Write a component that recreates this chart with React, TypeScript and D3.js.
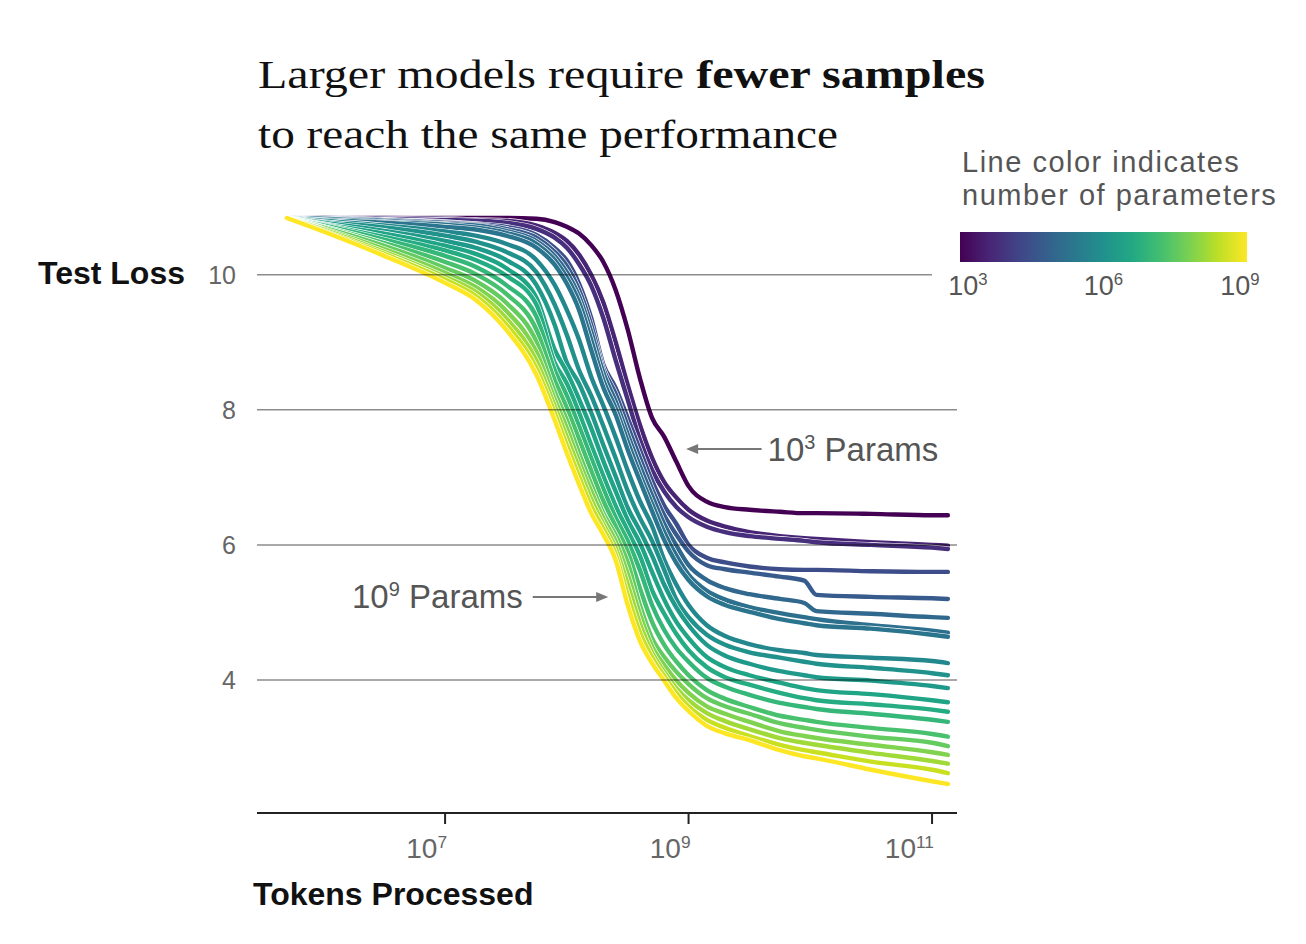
import React from 'react'
import * as d3 from 'd3'

const W = 1306
const H = 944

// log10(tokens processed), shared sample points for every run
const tokenExp = [5.7, 6.0, 6.5, 7.0, 7.25, 7.5, 7.75, 7.9, 8.0, 8.1, 8.2, 8.3, 8.4, 8.5, 8.6, 8.7, 8.8, 8.9, 9.0, 9.15, 9.3, 9.5, 9.75, 9.95, 10.05, 10.5, 11.0, 11.13]

// log10(parameter count) of each run, smallest first
const paramExp = [3.0, 3.6, 3.8, 4.4, 4.7, 5.0, 5.2, 5.3, 5.8, 6.0, 6.25, 6.5, 6.7, 7.0, 7.25, 7.55, 7.85, 8.15, 8.5, 9.0]

// test loss of each run at the tokenExp points
const run01 = [10.84, 10.84, 10.84, 10.84, 10.84, 10.84, 10.83, 10.78, 10.71, 10.61, 10.44, 10.19, 9.78, 9.19, 8.47, 7.88, 7.60, 7.23, 6.87, 6.64, 6.56, 6.52, 6.49, 6.47, 6.47, 6.46, 6.44, 6.44]
const run02 = [10.84, 10.84, 10.84, 10.83, 10.81, 10.80, 10.73, 10.62, 10.50, 10.30, 10.00, 9.59, 9.01, 8.37, 7.78, 7.29, 6.93, 6.70, 6.52, 6.36, 6.27, 6.19, 6.13, 6.10, 6.09, 6.04, 6.00, 5.99]
const run03 = [10.84, 10.84, 10.83, 10.81, 10.80, 10.77, 10.68, 10.55, 10.40, 10.16, 9.84, 9.36, 8.74, 8.15, 7.56, 7.11, 6.79, 6.56, 6.41, 6.27, 6.19, 6.13, 6.09, 6.06, 6.04, 6.00, 5.96, 5.94]
const run04 = [10.84, 10.84, 10.81, 10.78, 10.75, 10.71, 10.59, 10.40, 10.21, 9.87, 9.36, 8.67, 8.33, 7.88, 7.41, 6.95, 6.58, 6.31, 6.00, 5.81, 5.74, 5.68, 5.64, 5.63, 5.63, 5.61, 5.60, 5.60]
const run05 = [10.84, 10.83, 10.81, 10.77, 10.74, 10.68, 10.55, 10.34, 10.13, 9.78, 9.26, 8.61, 8.24, 7.76, 7.29, 6.83, 6.44, 6.15, 5.90, 5.70, 5.64, 5.59, 5.53, 5.47, 5.26, 5.23, 5.21, 5.20]
const run06 = [10.84, 10.83, 10.80, 10.75, 10.73, 10.65, 10.50, 10.28, 10.04, 9.69, 9.16, 8.55, 8.13, 7.64, 7.17, 6.73, 6.31, 5.99, 5.70, 5.48, 5.36, 5.27, 5.20, 5.14, 5.02, 4.98, 4.93, 4.92]
const run07 = [10.84, 10.83, 10.78, 10.74, 10.70, 10.62, 10.46, 10.22, 9.96, 9.60, 9.04, 8.44, 8.03, 7.53, 7.05, 6.61, 6.19, 5.84, 5.56, 5.32, 5.19, 5.08, 4.99, 4.93, 4.90, 4.81, 4.73, 4.70]
const run08 = [10.84, 10.81, 10.77, 10.71, 10.67, 10.58, 10.40, 10.15, 9.87, 9.48, 8.89, 8.33, 7.93, 7.41, 6.95, 6.50, 6.07, 5.73, 5.48, 5.24, 5.11, 5.01, 4.90, 4.84, 4.81, 4.76, 4.67, 4.64]
const run09 = [10.84, 10.80, 10.73, 10.64, 10.58, 10.46, 10.22, 9.85, 9.48, 9.04, 8.49, 8.06, 7.60, 7.10, 6.65, 6.28, 5.78, 5.41, 5.11, 4.81, 4.65, 4.53, 4.44, 4.40, 4.37, 4.33, 4.28, 4.25]
const run10 = [10.84, 10.78, 10.70, 10.58, 10.49, 10.34, 10.04, 9.56, 9.11, 8.59, 8.21, 7.76, 7.29, 6.80, 6.40, 6.06, 5.63, 5.19, 4.93, 4.67, 4.52, 4.41, 4.33, 4.27, 4.24, 4.18, 4.10, 4.07]
const run11 = [10.84, 10.77, 10.65, 10.50, 10.40, 10.22, 9.85, 9.26, 8.70, 8.39, 7.96, 7.48, 7.02, 6.55, 6.21, 5.84, 5.41, 5.07, 4.81, 4.52, 4.36, 4.24, 4.13, 4.07, 4.04, 3.99, 3.91, 3.88]
const run12 = [10.84, 10.75, 10.61, 10.43, 10.31, 10.10, 9.66, 8.89, 8.56, 8.16, 7.73, 7.24, 6.80, 6.37, 6.03, 5.60, 5.19, 4.86, 4.62, 4.34, 4.19, 4.07, 3.96, 3.88, 3.85, 3.79, 3.70, 3.67]
const run13 = [10.84, 10.74, 10.56, 10.36, 10.22, 9.99, 9.56, 8.70, 8.39, 7.96, 7.48, 7.02, 6.58, 6.21, 5.84, 5.33, 4.98, 4.68, 4.44, 4.19, 4.04, 3.93, 3.81, 3.73, 3.70, 3.64, 3.56, 3.53]
const run14 = [10.84, 10.73, 10.52, 10.28, 10.12, 9.85, 9.38, 8.59, 8.21, 7.76, 7.29, 6.83, 6.41, 6.06, 5.63, 5.11, 4.74, 4.47, 4.27, 4.03, 3.90, 3.78, 3.66, 3.60, 3.57, 3.50, 3.41, 3.38]
const run15 = [10.84, 10.71, 10.47, 10.19, 10.01, 9.72, 9.19, 8.44, 8.03, 7.57, 7.10, 6.65, 6.28, 5.90, 5.36, 4.86, 4.52, 4.27, 4.07, 3.85, 3.72, 3.60, 3.47, 3.41, 3.38, 3.29, 3.20, 3.16]
const run16 = [10.84, 10.70, 10.43, 10.10, 9.91, 9.59, 9.01, 8.27, 7.85, 7.36, 6.90, 6.47, 6.15, 5.74, 5.11, 4.62, 4.34, 4.12, 3.94, 3.73, 3.61, 3.50, 3.36, 3.29, 3.26, 3.16, 3.07, 3.02]
const run17 = [10.84, 10.68, 10.38, 10.03, 9.82, 9.47, 8.86, 8.16, 7.73, 7.24, 6.80, 6.40, 6.06, 5.57, 4.98, 4.50, 4.22, 3.99, 3.81, 3.61, 3.50, 3.38, 3.24, 3.17, 3.14, 3.04, 2.93, 2.89]
const run18 = [10.84, 10.67, 10.34, 9.97, 9.75, 9.36, 8.73, 8.06, 7.60, 7.14, 6.68, 6.31, 5.96, 5.42, 4.84, 4.41, 4.12, 3.88, 3.70, 3.51, 3.39, 3.27, 3.14, 3.07, 3.04, 2.92, 2.80, 2.76]
const run19 = [10.84, 10.65, 10.31, 9.93, 9.69, 9.27, 8.62, 7.96, 7.48, 7.02, 6.58, 6.24, 5.87, 5.26, 4.71, 4.34, 4.06, 3.81, 3.61, 3.41, 3.29, 3.17, 3.04, 2.96, 2.93, 2.79, 2.67, 2.62]
const run20 = [10.84, 10.64, 10.28, 9.88, 9.63, 9.19, 8.52, 7.85, 7.36, 6.90, 6.47, 6.15, 5.78, 5.11, 4.58, 4.25, 3.99, 3.73, 3.54, 3.32, 3.21, 3.11, 2.96, 2.87, 2.84, 2.67, 2.50, 2.46]

const runs = [run01, run02, run03, run04, run05, run06, run07, run08, run09, run10,
  run11, run12, run13, run14, run15, run16, run17, run18, run19, run20]

const lossTicks = [4, 6, 8, 10]
const tokenTicks = [7, 9, 11]
const legendTicks = [3, 6, 9]

const sans = "'Liberation Sans', Arial, Helvetica, sans-serif"
const serif = "'Liberation Serif', 'Times New Roman', serif"

function Pow({ base, exp, size, ...rest }: any) {
  // "10" with a raised exponent
  return (
    <text fontSize={size} {...rest}>
      {base}
      <tspan fontSize={size * 0.62} dy={-size * 0.36}>{exp}</tspan>
    </text>
  )
}

export default function App() {
  const x = d3.scaleLog().domain([10 ** 5.455, 10 ** 11.205]).range([257, 957])
  const y = d3.scaleLinear().domain([2.03, 10.9]).range([813, 214])
  const color = (p: number) => d3.interpolateViridis((p - 3) / 6)
  const legendX = d3.scaleLinear().domain([3, 9]).range([960, 1247])

  const line = d3.line<number>()
    .x((_, i) => x(10 ** tokenExp[i]))
    .y(d => y(d))
    .curve(d3.curveMonotoneX)

  const gradStops = d3.range(0, 1.0001, 0.1)

  // annotation anchors, in data units
  const smallArrow = { from: 9.6, to: 8.98, loss: 7.42 }
  const bigArrow = { from: 7.72, to: 8.34, loss: 5.23 }

  const [x0, x1] = x.range()

  return (
    <svg width={W} height={H} style={{ position: 'absolute', left: 0, top: 0, background: '#fff' }}>
      <defs>
        <linearGradient id="viridis" x1="0" x2="1" y1="0" y2="0">
          {gradStops.map(t => (
            <stop key={t} offset={t} stopColor={d3.interpolateViridis(t)} />
          ))}
        </linearGradient>
      </defs>

      {/* title */}
      <text x={258} y={88} fontFamily={serif} fontSize={41} fill="#111"
        textLength={727} lengthAdjust="spacingAndGlyphs">
        Larger models require <tspan fontWeight="bold">fewer samples</tspan>
      </text>
      <text x={258} y={148} fontFamily={serif} fontSize={41} fill="#111"
        textLength={580} lengthAdjust="spacingAndGlyphs">
        to reach the same performance
      </text>

      {/* loss curves */}
      <g fill="none" strokeLinejoin="round" strokeLinecap="round">
        {runs.map((r, i) => (
          <g key={i}>
            <path d={line(r) || ''} stroke="#fff" strokeWidth={5.6} />
            <path d={line(r) || ''} stroke={color(paramExp[i])} strokeWidth={4.4} />
          </g>
        ))}
      </g>

      {/* horizontal grid */}
      <g stroke="#000" strokeOpacity={0.45} strokeWidth={1.5}>
        {lossTicks.map(t => (
          <line key={t} x1={x0} x2={t === 10 ? 932 : x1} y1={y(t)} y2={y(t)} />
        ))}
      </g>
      <g fontFamily={sans} fontSize={25} fill="#666" textAnchor="end">
        {lossTicks.map(t => (
          <text key={t} x={236} y={y(t)} dy="0.35em">{t}</text>
        ))}
      </g>
      <text x={38} y={y(10) + 9} fontFamily={sans} fontSize={32} fontWeight="bold" fill="#111">Test Loss</text>

      {/* x axis */}
      <line x1={x0} x2={x1} y1={813} y2={813} stroke="#222" strokeWidth={2} />
      {tokenTicks.map(t => (
        <g key={t}>
          <line x1={x(10 ** t)} x2={x(10 ** t)} y1={813} y2={824} stroke="#222" strokeWidth={2} />
          <Pow base="10" exp={t} size={28} x={x(10 ** t) + 2} y={858}
            fontFamily={sans} fill="#666" textAnchor="end" />
        </g>
      ))}
      <text x={253} y={905} fontFamily={sans} fontSize={32} fontWeight="bold" fill="#111">Tokens Processed</text>

      {/* annotations */}
      <g stroke="#777" strokeWidth={2} fill="#777">
        <line x1={x(10 ** smallArrow.from)} x2={x(10 ** smallArrow.to) + 10} y1={y(smallArrow.loss)} y2={y(smallArrow.loss)} />
        <path d={`M${x(10 ** smallArrow.to)},${y(smallArrow.loss)} l12,-5 l0,10 z`} stroke="none" />
        <line x1={x(10 ** bigArrow.from)} x2={x(10 ** bigArrow.to) - 10} y1={y(bigArrow.loss)} y2={y(bigArrow.loss)} />
        <path d={`M${x(10 ** bigArrow.to)},${y(bigArrow.loss)} l-12,-5 l0,10 z`} stroke="none" />
      </g>
      <text x={x(10 ** smallArrow.from) + 6} y={y(smallArrow.loss) + 12} fontFamily={sans} fontSize={33} fill="#555">
        10<tspan fontSize={20} dy={-12}>3</tspan><tspan dy={12}> Params</tspan>
      </text>
      <text x={x(10 ** bigArrow.from) - 10} y={y(bigArrow.loss) + 11} fontFamily={sans} fontSize={33} fill="#555" textAnchor="end">
        10<tspan fontSize={20} dy={-12}>9</tspan><tspan dy={12}> Params</tspan>
      </text>

      {/* colour legend */}
      <text x={962} y={172} fontFamily={sans} fontSize={29} fill="#555" letterSpacing={1.5}>Line color indicates</text>
      <text x={962} y={205} fontFamily={sans} fontSize={29} fill="#555" letterSpacing={1.5}>number of parameters</text>
      <rect x={legendX(3)} y={232} width={legendX(9) - legendX(3)} height={30} fill="url(#viridis)" />
      {legendTicks.map((t, i) => (
        <Pow key={t} base="10" exp={t} size={27} x={legendX(t) + [8, 0, -7][i]} y={295}
          fontFamily={sans} fill="#555" textAnchor="middle" />
      ))}
    </svg>
  )
}
